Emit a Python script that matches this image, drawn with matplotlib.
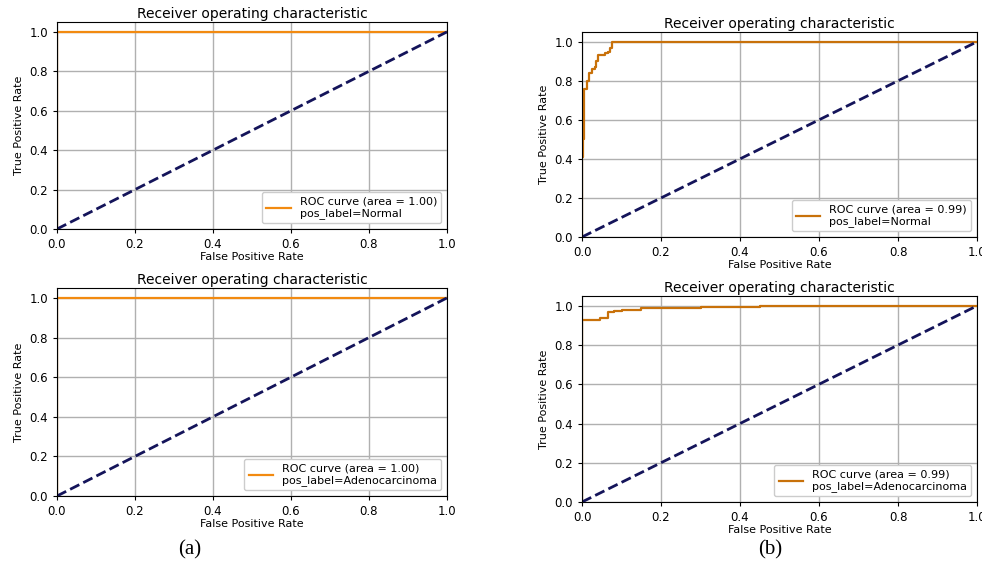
import matplotlib
matplotlib.use('Agg')
import matplotlib.pyplot as plt

# ROC data (drawn as steps)
fpr_perfect = [0.0, 0.0, 1.0]
tpr_perfect = [0.0, 1.0, 1.0]

fpr_normal_b = [0.0, 0.0, 0.003, 0.005, 0.012, 0.018, 0.025, 0.032, 0.036, 0.04,
                0.058, 0.066, 0.072, 0.075, 1.0]
tpr_normal_b = [0.0, 0.41, 0.5, 0.76, 0.80, 0.84, 0.86, 0.87, 0.90, 0.93,
                0.94, 0.95, 0.97, 1.0, 1.0]

fpr_adeno_b = [0.0, 0.0, 0.046, 0.066, 0.08, 0.1, 0.15, 0.3, 0.45, 1.0]
tpr_adeno_b = [0.0, 0.929, 0.94, 0.968, 0.975, 0.98, 0.99, 0.995, 1.0, 1.0]

panels = [
    # (rect in px, fpr, tpr, label, color)
    ([57, 22, 447, 229], fpr_perfect, tpr_perfect, 'ROC curve (area = 1.00)\npos_label=Normal', '#f28a10'),
    ([582, 32, 977, 237], fpr_normal_b, tpr_normal_b, 'ROC curve (area = 0.99)\npos_label=Normal', '#c8710a'),
    ([57, 288, 447, 496], fpr_perfect, tpr_perfect, 'ROC curve (area = 1.00)\npos_label=Adenocarcinoma', '#f28a10'),
    ([582, 296, 977, 502], fpr_adeno_b, tpr_adeno_b, 'ROC curve (area = 0.99)\npos_label=Adenocarcinoma', '#c8710a'),
]

W, H = 982, 564
fig = plt.figure(figsize=(W / 100, H / 100), dpi=100)

for (x0, y0, x1, y1), fx, ty, lab, col in panels:
    ax = fig.add_axes([x0 / W, 1 - y1 / H, (x1 - x0) / W, (y1 - y0) / H])
    ax.plot(fx, ty, color=col, lw=1.6, label=lab, drawstyle='steps-post')
    ax.plot([0, 1], [0, 1], color='#14145a', lw=2, ls='--')
    ax.set_xlim(0, 1)
    ax.set_ylim(0, 1.05)
    ax.set_xticks([0, 0.2, 0.4, 0.6, 0.8, 1.0])
    ax.set_yticks([0, 0.2, 0.4, 0.6, 0.8, 1.0])
    ax.tick_params(labelsize=8.5, length=3)
    ax.grid(True, color='#b0b0b0', lw=1)
    ax.set_xlabel('False Positive Rate', fontsize=8, labelpad=1)
    ax.set_ylabel('True Positive Rate', fontsize=8, family=['Liberation Sans Narrow', 'DejaVu Sans'])
    ax.set_title('Receiver operating characteristic', fontsize=10, pad=3)
    ax.legend(loc='lower right', fontsize=8, handlelength=2.2, borderpad=0.4,
              labelspacing=0.1, framealpha=1)

fig.text(190 / W, 1 - 550 / H, '(a)', fontsize=15, family='Liberation Serif', ha='center', va='center')
fig.text(770 / W, 1 - 550 / H, '(b)', fontsize=15, family='Liberation Serif', ha='center', va='center')

fig.savefig('out.png', dpi=100)
